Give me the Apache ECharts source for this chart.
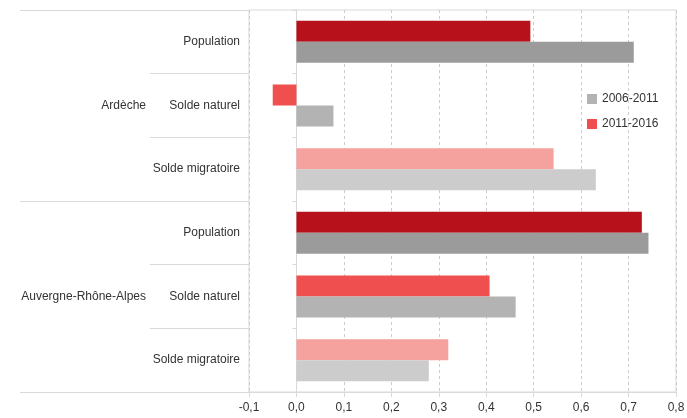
<!doctype html>
<html>
<head>
<meta charset="utf-8">
<title>Ardèche - Auvergne-Rhône-Alpes</title>
<style>
  html, body { margin: 0; padding: 0; background: #fff; }
  #chart { width: 687px; height: 418px; }
</style>
</head>
<body>
<div id="chart"></div>
<script src="https://cdn.jsdelivr.net/npm/echarts@6/dist/echarts.min.js"></script>
<script>
// données
var groups = ['Ardèche', 'Auvergne-Rhône-Alpes'];
var categories = ['Population', 'Solde naturel', 'Solde migratoire', 'Population', 'Solde naturel', 'Solde migratoire'];
var periods = ['2006-2011', '2011-2016'];
var values0611 = [0.711, 0.078, 0.631, 0.742, 0.462, 0.279];
var values1116 = [0.493, -0.050, 0.542, 0.728, 0.407, 0.320];
var xTicks = ['-0,1', '0,0', '0,1', '0,2', '0,3', '0,4', '0,5', '0,6', '0,7', '0,8'];

// couleurs par indicateur (Population, Solde naturel, Solde migratoire)
var grayColors = ['#9b9b9b', '#b3b3b3', '#cccccc'];
var redColors = ['#b7121b', '#ef4f4f', '#f5a19d'];

var font = 'Liberation Sans, Arial, sans-serif';
var lineColor = '#d9d9d9';

function colored(values, colors) {
  return values.map(function (v, i) {
    return { value: v, itemStyle: { color: colors[i % 3] } };
  });
}

var chart = echarts.init(document.getElementById('chart'));
var option = {
  animation: false,
  textStyle: { fontFamily: font },
  grid: {
    left: 249, right: 11, top: 10, bottom: 26,
    show: true, borderColor: lineColor, borderWidth: 1,
    outerBoundsMode: 'none'
  },
  legend: {
    orient: 'vertical',
    left: 582, top: 88,
    itemWidth: 10, itemHeight: 10, itemGap: 13,
    icon: 'rect',
    data: periods,
    textStyle: { fontSize: 12, color: '#333', fontFamily: font }
  },
  xAxis: {
    type: 'value',
    min: -0.1, max: 0.8, interval: 0.1,
    axisLine: { show: true, onZero: false, lineStyle: { color: lineColor } },
    axisTick: { show: true, length: 5, lineStyle: { color: lineColor } },
    axisLabel: {
      color: '#333', fontSize: 12, margin: 10, fontFamily: font,
      formatter: function (v) { return xTicks[Math.round((v + 0.1) * 10)]; }
    },
    splitLine: { show: true, lineStyle: { color: '#cccccc', type: [3, 3] } }
  },
  yAxis: [
    {
      // ligne du zéro
      type: 'category', inverse: true, data: categories,
      axisLine: { show: true, onZero: true, lineStyle: { color: lineColor } },
      axisTick: { show: true, length: 4, lineStyle: { color: lineColor } },
      axisLabel: { show: false },
      splitLine: { show: false }
    },
    {
      // indicateurs
      type: 'category', inverse: true, data: categories, position: 'left',
      axisLine: { show: false, onZero: false },
      axisTick: { show: true, length: 99, lineStyle: { color: lineColor } },
      axisLabel: { color: '#333', fontSize: 12, margin: 9, fontFamily: font },
      splitLine: { show: false }
    },
    {
      // territoires
      type: 'category', inverse: true, data: groups, position: 'left',
      axisLine: { show: false, onZero: false },
      axisTick: { show: true, length: 229, lineStyle: { color: lineColor } },
      axisLabel: { color: '#333', fontSize: 12, margin: 103, fontFamily: font },
      splitLine: { show: false }
    }
  ],
  series: [
    {
      name: periods[1], type: 'bar', yAxisIndex: 0,
      barWidth: 21, barGap: 0,
      itemStyle: { color: '#ef4f4f' },
      data: colored(values1116, redColors)
    },
    {
      name: periods[0], type: 'bar', yAxisIndex: 0,
      barWidth: 21, barGap: 0,
      itemStyle: { color: '#b3b3b3' },
      data: colored(values0611, grayColors)
    }
  ]
};
chart.setOption(option);
</script>
</body>
</html>
